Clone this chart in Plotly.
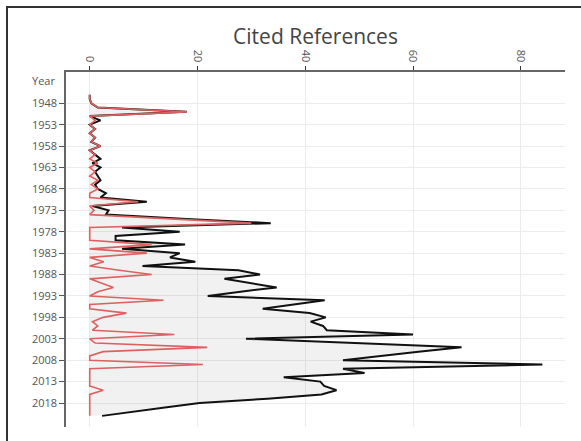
import plotly.graph_objects as go

years = list(range(1946, 2022))

total_refs = [
    0, 0, 0.3, 1.5, 18, 0, 2, 0, 1, 0,
    1, 0.3, 2, 0, 1, 2, 0.5, 2, 1, 1.5,
    2, 1, 1.5, 3, 2, 10.6, 0.5, 3.5, 3, 18,
    33.6, 6, 16.7, 4.8, 4.8, 17.7, 6, 16.7, 14.9, 19.6,
    9.8, 27.6, 31.6, 25, 30, 34.7, 28, 21.9, 43.6, 38,
    32.1, 40.8, 43.8, 41, 43.3, 44, 60, 29, 49, 69,
    61, 54, 47, 84, 47, 51, 36, 42.8, 43.5, 45.8,
    43, 33, 20.4, 14.3, 8.3, 2.3,
]

subset_refs = [
    0, 0, 0.3, 1.5, 18, 0, 1, 0, 1, 0,
    1, 0.3, 2, 0, 1, 0, 1.5, 0, 1, 0,
    1.5, 0.3, 1.5, 0, 0, 9, 0, 0.8, 0, 15,
    30, 0, 0, 0, 0, 11.5, 0, 10.6, 0, 2.6,
    0, 5.5, 11.5, 0, 2.2, 4.4, 1.5, 0, 13.7, 0,
    0, 6.8, 2.5, 0.5, 1.5, 0.5, 15.7, 0, 1, 21.8,
    2.5, 0, 0, 21, 0, 0, 0, 0, 0, 2.5,
    0, 0, 0, 0, 0, 0,
]

x_ticks = [0, 20, 40, 60, 80]
y_ticks = list(range(1948, 2019, 5))

fig = go.Figure()
fig.add_trace(go.Scatter(
    x=total_refs, y=years, mode="lines",
    line=dict(color="#111111", width=2),
    fill="tozerox", fillcolor="rgba(0,0,0,0.055)",
    showlegend=False,
))
fig.add_trace(go.Scatter(
    x=subset_refs, y=years, mode="lines",
    line=dict(color="rgb(222,96,96)", width=1.6),
    showlegend=False,
))

fig.update_layout(
    width=581, height=441,
    margin=dict(l=66, r=16, t=72, b=14),
    paper_bgcolor="white", plot_bgcolor="white",
    font=dict(family="Open Sans, Verdana, sans-serif", color="#555", size=11),
    title=dict(text="Cited References", x=0.5, xref="paper",
               y=1 - 37 / 441, yref="container", yanchor="middle",
               font=dict(size=21, color="#444")),
    xaxis=dict(
        side="top", range=[-4.4, 88.2], tickmode="array", tickvals=x_ticks,
        tickangle=90, ticks="outside", ticklen=4, tickcolor="#333",
        showline=True, linecolor="#666", linewidth=1.5,
        showgrid=True, gridcolor="#ececec", zeroline=False,
        tickfont=dict(size=11, color="#555"),
    ),
    yaxis=dict(
        range=[2023.6, 1940.7], tickmode="array", tickvals=y_ticks,
        ticks="outside", ticklen=5, tickcolor="#555",
        showline=True, linecolor="#666", linewidth=1.5,
        showgrid=True, gridcolor="#ececec", zeroline=False,
        tickfont=dict(size=11, color="#555"),
    ),
    annotations=[dict(
        text="Year", xref="paper", x=0, xanchor="right", xshift=-9,
        yref="y", y=1942.6, yanchor="middle", showarrow=False,
        font=dict(size=11, color="#555"),
    )],
    shapes=[dict(
        type="rect", xref="paper", yref="paper",
        x0=(7 - 66) / 499, x1=(600 - 66) / 499,
        y0=(427 - 460) / 355, y1=1 + (72 - 7) / 355,
        line=dict(color="#333", width=2), fillcolor="rgba(0,0,0,0)",
        layer="below",
    )],
)

fig.write_html("out.html", config={"displayModeBar": False},
               post_script="document.body.style.margin='0';")
